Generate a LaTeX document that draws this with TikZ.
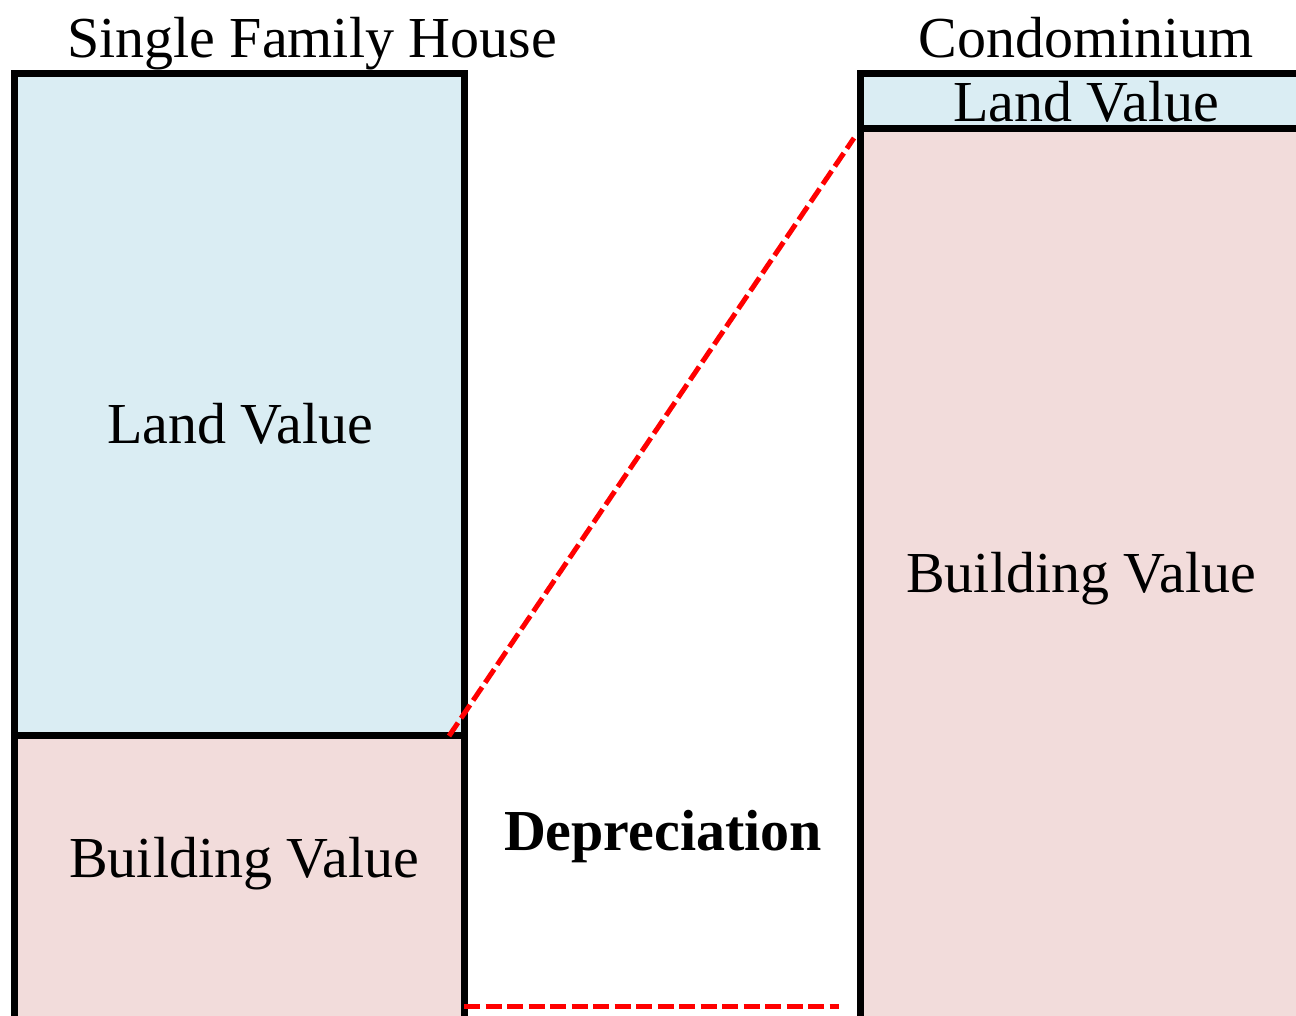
\documentclass[tikz,border=0pt]{standalone}
\usepackage{fontspec}
\setmainfont{Liberation Serif}
\definecolor{landblue}{HTML}{DAEDF3}
\definecolor{buildpink}{HTML}{F2DCDB}
\begin{document}
\begin{tikzpicture}[x=1pt,y=-1pt,
  box/.style={draw=black,line width=7pt,inner sep=0pt,outer sep=0pt,anchor=north west},
  lbl/.style={font=\fontsize{58}{70}\selectfont,anchor=base,inner sep=0pt},
  dep/.style={red,line width=5pt,dash pattern=on 16pt off 5.5pt}]
\useasboundingbox (0,0) rectangle (1296,1015);
\begin{scope}
\clip (0,0) rectangle (1296,1015);
\node[box,fill=landblue,minimum width=450pt,minimum height=662pt] (sland) at (14.5,73.5) {};
\node[box,fill=buildpink,minimum width=450pt,minimum height=320pt] (sbuild) at (14.5,735.5) {};
\node[box,fill=landblue,minimum width=460pt,minimum height=55pt] (cland) at (860,73.5) {};
\node[box,fill=buildpink,minimum width=460pt,minimum height=920pt] (cbuild) at (860,128.5) {};
\end{scope}
\node[lbl] (t1) at (312,57) {Single Family House};
\node[lbl] (t2) at (1086,57) {Condominium};
\node[lbl] (t3) at (1086,121) {Land Value};
\node[lbl] (t4) at (240,443) {Land Value};
\node[lbl] (t5) at (244,877) {Building Value};
\node[lbl,font=\fontsize{58}{70}\selectfont\bfseries] (t6) at (663,850) {Depreciation};
\node[lbl] (t7) at (1081,592) {Building Value};
\coordinate (d1) at (449,736);
\coordinate (d2) at (854,138);
\coordinate (d3) at (464,1006);
\coordinate (d4) at (839,1006);
\draw[dep] (d1) -- (d2);
\draw[dep] (d3) -- (d4);
\end{tikzpicture}
\end{document}
